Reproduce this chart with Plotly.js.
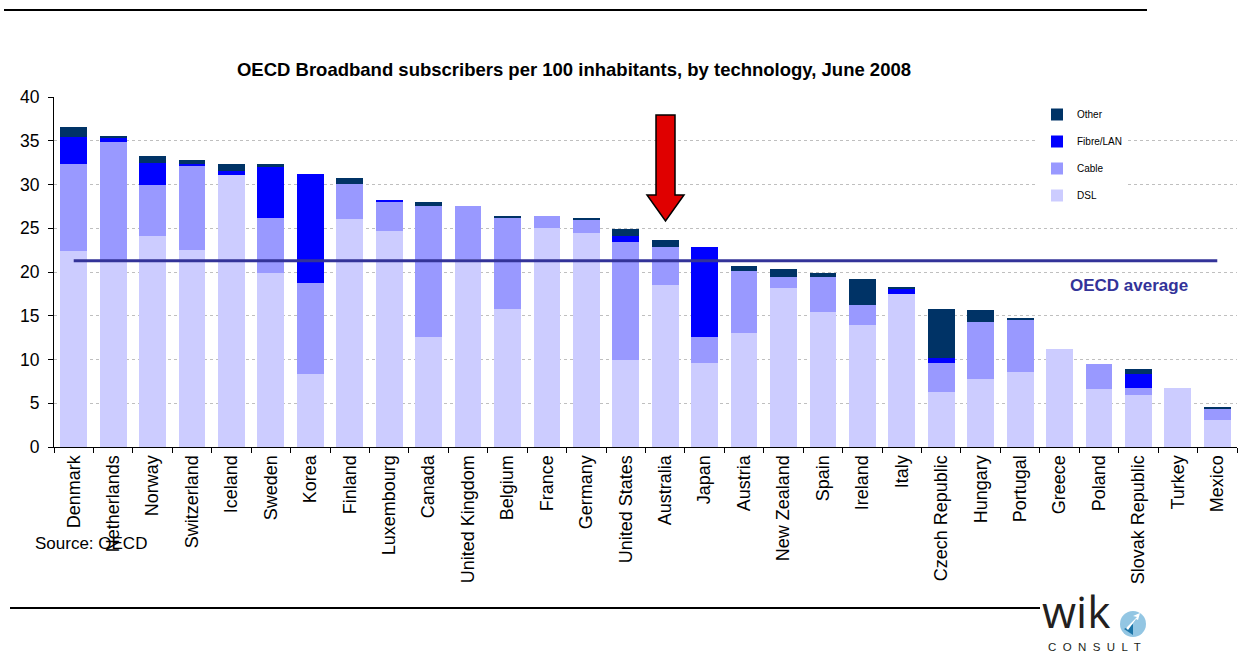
<!DOCTYPE html>
<html>
<head>
<meta charset="utf-8">
<script src="https://cdn.plot.ly/plotly-3.0.1.min.js"></script>
<style>html,body{margin:0;padding:0;background:#fff;}#chart{width:1246px;height:655px;}</style>
</head>
<body>
<div id="chart"></div>
<script>
const countries = ["Denmark","Netherlands","Norway","Switzerland","Iceland","Sweden","Korea","Finland","Luxembourg","Canada","United Kingdom","Belgium","France","Germany","United States","Australia","Japan","Austria","New Zealand","Spain","Ireland","Italy","Czech Republic","Hungary","Portugal","Greece","Poland","Slovak Republic","Turkey","Mexico"];
const dsl   = [22.4,21.3,24.1,22.5,31.1,19.9,8.3,26.1,24.7,12.6,21.5,15.8,25.0,24.5,9.9,18.5,9.6,13.0,18.2,15.4,13.9,17.5,6.3,7.8,8.6,11.2,6.6,5.9,6.7,3.1];
const cable = [10.0,13.6,5.9,9.6,0,6.3,10.5,4.0,3.3,14.9,6.0,10.4,1.4,1.5,13.5,4.4,3.0,7.1,1.2,4.0,2.3,0,3.3,6.5,6.0,0,2.9,0.9,0,1.3];
const fibre = [3.0,0.5,2.5,0.3,0.5,5.9,12.4,0,0.2,0,0,0,0,0,0.7,0,10.3,0,0,0,0,0.6,0.6,0,0,0,0,1.6,0,0];
const other = [1.2,0.2,0.8,0.4,0.8,0.2,0,0.6,0,0.5,0,0.2,0,0.2,0.8,0.8,0,0.6,1.0,0.5,3.0,0.2,5.6,1.4,0.2,0,0,0.5,0,0.2];
const oecdAverage = 21.3;
const yTicks = [0,5,10,15,20,25,30,35,40];

const FONT = "Liberation Sans, Arial, sans-serif";
// pixel -> paper helpers (plot area: x 54..1237, y 97..447)
const L = 54, R = 1237, T = 97, B = 447;
const px = x => (x - L) / (R - L);
const py = y => (B - y) / (B - T);

const mk = (name, y, color, grp, rank) => ({
  type: 'bar', name: name, x: countries, y: y, legendgroup: grp, legendrank: rank,
  marker: {color: color, line: {width: 0}}, hoverinfo: 'x+y+name'
});

const traces = [
  mk('DSL', dsl, '#CCCCFF', 'g1', 4),
  mk('Cable', cable, '#9999FF', 'g2', 3),
  mk('Fibre/LAN', fibre, '#0000FF', 'g3', 2),
  mk('Other', other, '#003366', 'g4', 1),
  {type: 'scatter', mode: 'lines', x: countries, y: countries.map(() => oecdAverage),
   line: {color: '#333399', width: 3}, showlegend: false, hoverinfo: 'skip'}
];

const arrowPath = 'M' + px(656) + ',' + py(115) + ' L' + px(675) + ',' + py(115) +
  ' L' + px(675) + ',' + py(195) + ' L' + px(684) + ',' + py(195) +
  ' L' + px(665.5) + ',' + py(221) + ' L' + px(647) + ',' + py(195) +
  ' L' + px(656) + ',' + py(195) + ' Z';

const logoArrow = 'M' + px(1126) + ',' + py(628) + ' L' + px(1137) + ',' + py(617) +
  ' L' + px(1133) + ',' + py(616) + ' L' + px(1140) + ',' + py(613) + ' L' + px(1138) + ',' + py(620) +
  ' L' + px(1136) + ',' + py(619) + ' L' + px(1128) + ',' + py(630) + ' Z';
const logoTri = 'M' + px(1124) + ',' + py(629) + ' L' + px(1133) + ',' + py(635) + ' L' + px(1133) + ',' + py(624) + ' Z';

const layout = {
  width: 1246, height: 655,
  margin: {l: L, r: 1246 - R, t: T, b: 655 - B, pad: 0},
  paper_bgcolor: '#ffffff', plot_bgcolor: '#ffffff',
  barmode: 'stack', bargap: 0.32,
  font: {family: FONT, color: '#000000', size: 15},
  title: {text: 'OECD Broadband subscribers per 100 inhabitants, by technology, June 2008',
          font: {family: FONT, size: 18.5, color: '#000000', weight: 'bold'},
          x: 574 / 1246, xref: 'container', xanchor: 'center',
          y: 1 - 70 / 655, yref: 'container', yanchor: 'middle'},
  xaxis: {type: 'category', tickangle: -90, showgrid: false, zeroline: false,
          showline: true, linecolor: '#000000', linewidth: 1,
          ticks: 'outside', tickson: 'boundaries', ticklen: 5, tickcolor: '#000000',
          tickfont: {family: FONT, size: 18, color: '#000000'}, automargin: false},
  yaxis: {range: [0, 40], tickvals: yTicks, ticktext: yTicks.map(String),
          showgrid: true, gridcolor: '#BFBFBF', griddash: 'dot', gridwidth: 1,
          zeroline: false, showline: true, linecolor: '#000000', linewidth: 1,
          ticks: 'outside', ticklen: 5, tickcolor: '#000000', ticklabelstandoff: 5,
          tickfont: {family: FONT, size: 17.5, color: '#000000'}, automargin: false},
  legend: {x: px(1037), y: py(100), xanchor: 'left', yanchor: 'top',
           bgcolor: '#ffffff', borderwidth: 0, traceorder: 'grouped',
           tracegroupgap: 8, font: {family: FONT, size: 10, color: '#000000'},
           itemclick: false, itemdoubleclick: false},
  showlegend: true,
  shapes: [
    {type: 'line', xref: 'paper', yref: 'paper', x0: px(4), x1: px(1147), y0: py(10), y1: py(10),
     line: {color: '#000000', width: 2}},
    {type: 'line', xref: 'paper', yref: 'paper', x0: px(10), x1: px(1040), y0: py(608), y1: py(608),
     line: {color: '#000000', width: 2}},
    {type: 'path', xref: 'paper', yref: 'paper', path: arrowPath,
     fillcolor: '#E00000', line: {color: '#000000', width: 1.5}},
    {type: 'circle', xref: 'paper', yref: 'paper', x0: px(1120), x1: px(1146), y0: py(637), y1: py(611),
     fillcolor: '#93C6E3', line: {width: 0}},
    {type: 'path', xref: 'paper', yref: 'paper', path: logoTri, fillcolor: '#1C75A8', line: {width: 0}},
    {type: 'path', xref: 'paper', yref: 'paper', path: logoArrow, fillcolor: '#ffffff', line: {width: 0}}
  ],
  annotations: [
    {text: '<b>OECD average</b>', xref: 'paper', yref: 'paper', x: px(1129), y: py(285),
     xanchor: 'center', yanchor: 'middle', showarrow: false,
     font: {family: FONT, size: 17, color: '#333399'}},
    {text: 'Source: OECD', xref: 'paper', yref: 'paper', x: px(33), y: py(543),
     xanchor: 'left', yanchor: 'middle', showarrow: false,
     font: {family: FONT, size: 17, color: '#000000'}},
    {text: 'wik', xref: 'paper', yref: 'paper', x: px(1040), y: py(643),
     xanchor: 'left', yanchor: 'bottom', showarrow: false,
     font: {family: 'Open Sans, DejaVu Sans, sans-serif', size: 44, color: '#231F20'}},
    {text: 'C  O  N  S  U  L  T', xref: 'paper', yref: 'paper', x: px(1094), y: py(655),
     xanchor: 'center', yanchor: 'bottom', showarrow: false,
     font: {family: FONT, size: 11.5, color: '#231F20'}}
  ]
};

Plotly.newPlot('chart', traces, layout, {displayModeBar: false, staticPlot: false});
</script>
</body>
</html>
